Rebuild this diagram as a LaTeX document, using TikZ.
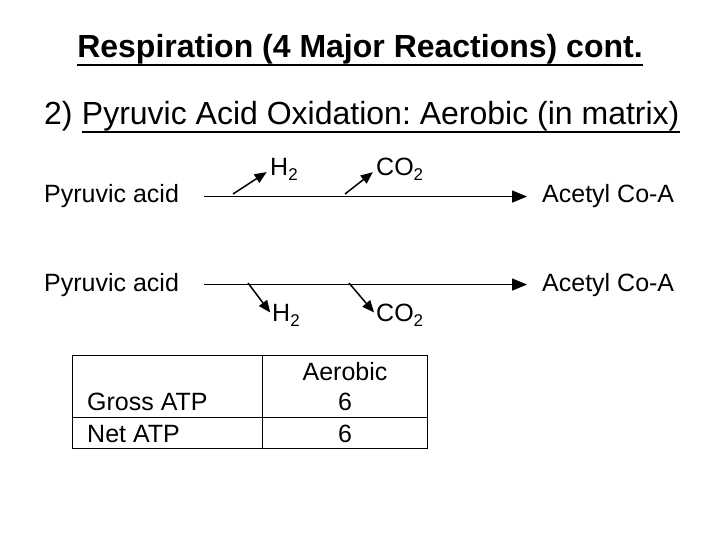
\documentclass[tikz,border=0pt]{standalone}
\usepackage{fontspec}
\setmainfont{Liberation Sans}
\frenchspacing
\usetikzlibrary{arrows.meta}
\newcommand{\lowtwo}{\raisebox{-5pt}{\fontsize{17}{20}\selectfont 2}}

\begin{document}
\begin{tikzpicture}[x=1pt,y=-1pt,
  txt/.style={font=\fontsize{25}{30}\selectfont,inner sep=0pt},
  head/.style={font=\fontsize{32}{38}\selectfont,inner sep=0pt},
  react/.style={-{Triangle[length=15pt,width=12pt]},line width=1.5pt},
  side/.style={-{Triangle[length=12pt,width=10pt]},line width=1.5pt}]
\useasboundingbox[fill=white] (0,0) rectangle (720,540);
% headings
\node[head,font=\fontsize{32}{38}\selectfont\bfseries,anchor=base] (title) at (360,58) {Respiration (4 Major Reactions) cont.};
\draw[line width=2.5pt] (title.south west) -- (title.south east);
\node[head,anchor=base west] (num) at (44,125) {2)};
\node[head,anchor=base west] (step2) at ([xshift=8.9pt]num.base east) {Pyruvic Acid Oxidation: Aerobic (in matrix)};
\draw[line width=1.8pt] (step2.south west) -- (step2.south east);
% first reaction
\node[txt,anchor=base west] (pyr1) at (44,203) {Pyruvic acid};
\node[txt,anchor=base west] (acet1) at (542,203) {Acetyl Co-A};
\node[txt,anchor=base west] (h2a) at (270,176) {H\lowtwo};
\node[txt,anchor=base west] (co2a) at (376,176) {CO\lowtwo};
\draw[react,shorten <=25pt,shorten >=15pt] (pyr1) -- (acet1);
\coordinate (ba) at (233,194);
\coordinate (ca) at (345,194);
\draw[side,shorten >=4pt] (ba) -- (h2a.west);
\draw[side,shorten >=4pt] (ca) -- (co2a.west);
% second reaction
\node[txt,anchor=base west] (pyr2) at (44,291) {Pyruvic acid};
\node[txt,anchor=base west] (acet2) at (542,291) {Acetyl Co-A};
\node[txt,anchor=base west] (h2b) at (272,321) {H\lowtwo};
\node[txt,anchor=base west] (co2b) at (376,321) {CO\lowtwo};
\draw[react,shorten <=25pt,shorten >=15pt] (pyr2) -- (acet2);
\coordinate (bb) at (248,283);
\coordinate (cb) at (349,283);
\draw[side,shorten >=3pt] (bb) -- (h2b.west);
\draw[side,shorten >=3pt] (cb) -- (co2b.west);
% ATP table
\draw[line width=1pt] (72,355) rectangle (427,448);
\draw[line width=1pt] (262,355) -- (262,448);
\draw[line width=1pt] (72,417) -- (427,417);
\node[txt,anchor=base] (aer) at (345,380) {Aerobic};
\node[txt,anchor=base west] (gross) at (87,410) {Gross ATP};
\node[txt,anchor=base] (grossv) at (345,410) {6};
\node[txt,anchor=base west] (net) at (87,442) {Net ATP};
\node[txt,anchor=base] (netv) at (345,442) {6};
\end{tikzpicture}
\end{document}
